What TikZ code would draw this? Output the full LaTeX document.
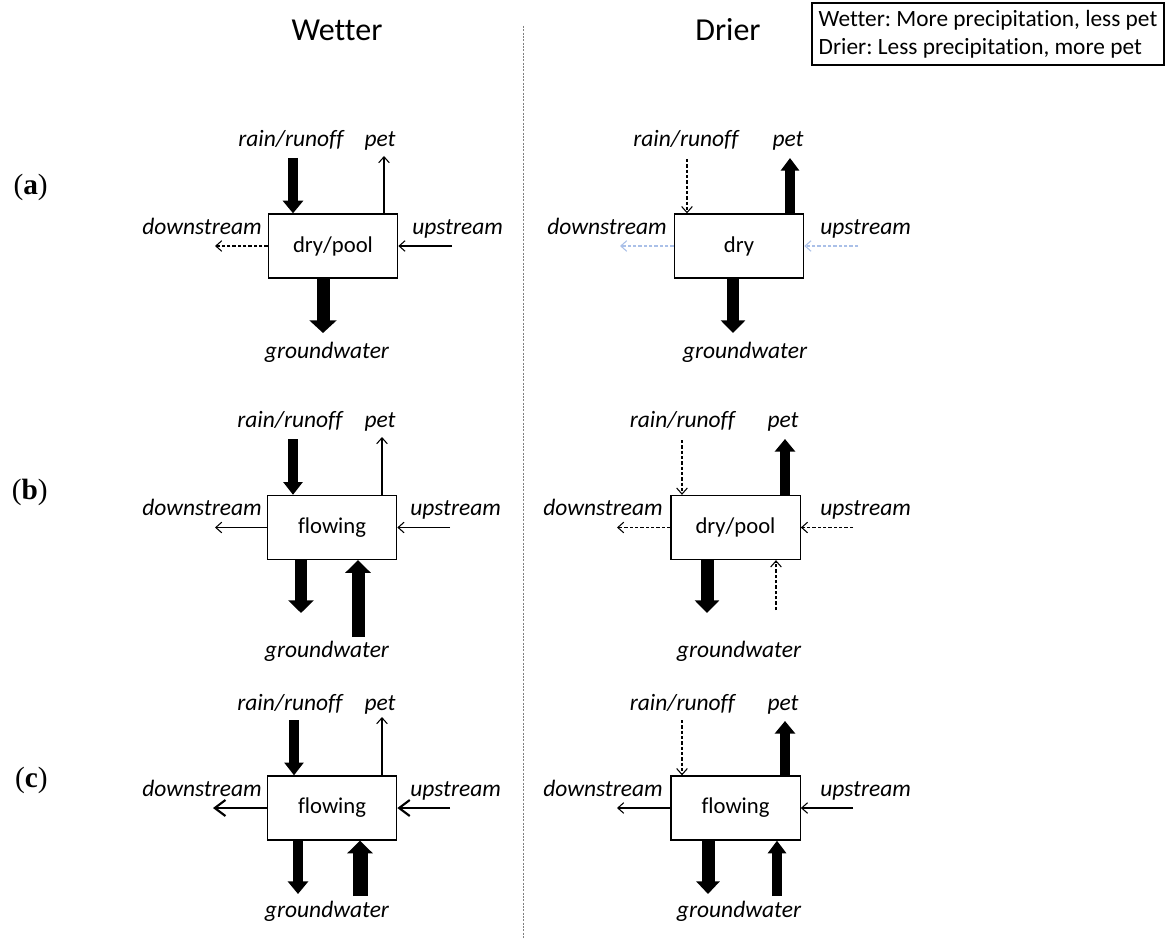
\documentclass[tikz,border=0pt]{standalone}
\usepackage{fontspec}
\setmainfont{Carlito}[Ligatures=NoCommon]
\newfontfamily\tagfont{Liberation Serif}
\usetikzlibrary{arrows.meta}
\definecolor{paleblue}{RGB}{170,192,232}
\frenchspacing

\begin{document}
\begin{tikzpicture}[x=0.75pt,y=-0.75pt,
		cell/.style={draw,line width=1pt,minimum width=97pt,minimum height=48pt,inner sep=0pt,font=\fontsize{17}{20}\selectfont},
		lab/.style={inner sep=0pt,font=\fontsize{17.6}{20}\selectfont\itshape},
		head/.style={anchor=base,font=\fontsize{24}{28}\selectfont},
		tag/.style={anchor=base east,inner sep=0pt,font=\fontsize{22}{26}\tagfont},
		flow/.style={line width=0.8pt,-{Straight Barb[length=4.5pt,width=8pt]}},
		strong/.style={line width=1.6pt,-{Straight Barb[length=8pt,width=12pt]}},
		weak/.style={flow,dash pattern=on 2.5pt off 1.5pt},
		fat/.style 2 args={line width=#1,-{Triangle[length=9.5pt,width=#2]}}]
		\useasboundingbox (0,0) rectangle (1168,938);

		% column titles, key and divider
		\node[head] (wet) at (337,41) {Wetter};
		\node[head] (dry) at (728,41) {Drier};
		\node[draw,line width=0.8pt,minimum width=264pt,minimum height=46.5pt,align=left,inner xsep=4pt,inner ysep=0pt,font=\fontsize{17.5}{21}\selectfont] (key) at (988,34) {Wetter: More precipitation, less pet\\Drier: Less precipitation, more pet};
		\coordinate (divtop) at (523,26);
		\coordinate (divbot) at (523,938);
		\draw[gray,line width=0.6pt,dash pattern=on 1.5pt off 1pt] (divtop) -- (divbot);

		\node[tag] (tagA) at (48,195) {(\textbf{a})};
		\node[tag] (tagB) at (48,499) {(\textbf{b})};
		\node[tag] (tagC) at (48,787) {(\textbf{c})};

		% (a) wetter
		\node[cell] (wa) at (333,246) {dry/pool};
		\coordinate (wa-rain) at (293,158);
		\coordinate (wa-pet) at (384,156);
		\coordinate (wa-down) at (215,246);
		\coordinate (wa-up) at (452,246);
		\coordinate (wa-gw) at (323,333);
		\draw[fat={7.5pt}{15pt}] (wa-rain) -- (wa-rain |- wa.north);
		\draw[flow] (wa-pet |- wa.north) -- (wa-pet);
		\draw[weak] (wa.west) -- (wa-down);
		\draw[flow] (wa-up) -- (wa.east);
		\draw[fat={9.75pt}{20pt}] (wa-gw |- wa.south) -- (wa-gw);
		\node[lab,anchor=base] (wa-l1) at (291,147) {rain/runoff};
		\node[lab,anchor=base] (wa-l2) at (380,147) {pet};
		\node[lab,anchor=base east] (wa-l3) at (262,234) {downstream};
		\node[lab,anchor=base west] (wa-l4) at (412,234) {upstream};
		\node[lab,anchor=base] (wa-l5) at (327,358) {groundwater};

		% (a) drier
		\node[cell] (da) at (739,246) {dry};
		\coordinate (da-rain) at (687,159);
		\coordinate (da-pet) at (790,158);
		\coordinate (da-down) at (620,246);
		\coordinate (da-up) at (858,246);
		\coordinate (da-gw) at (733,333);
		\draw[weak] (da-rain) -- (da-rain |- da.north);
		\draw[fat={7.5pt}{13.5pt}] (da-pet |- da.north) -- (da-pet);
		\draw[weak,paleblue] (da.west) -- (da-down);
		\draw[weak,paleblue] (da-up) -- (da.east);
		\draw[fat={9pt}{18pt}] (da-gw |- da.south) -- (da-gw);
		\node[lab,anchor=base] (da-l1) at (686,147) {rain/runoff};
		\node[lab,anchor=base] (da-l2) at (788,147) {pet};
		\node[lab,anchor=base east] (da-l3) at (667,234) {downstream};
		\node[lab,anchor=base west] (da-l4) at (820,234) {upstream};
		\node[lab,anchor=base] (da-l5) at (745,358) {groundwater};

		% (b) wetter
		\node[cell] (wb) at (332,527.5) {flowing};
		\coordinate (wb-rain) at (293,439);
		\coordinate (wb-pet) at (382,437);
		\coordinate (wb-down) at (215,527.5);
		\coordinate (wb-up) at (450,527.5);
		\coordinate (wb-gw1) at (301,613);
		\coordinate (wb-gw2) at (358,637);
		\draw[fat={7.5pt}{14pt}] (wb-rain) -- (wb-rain |- wb.north);
		\draw[flow] (wb-pet |- wb.north) -- (wb-pet);
		\draw[flow] (wb.west) -- (wb-down);
		\draw[flow] (wb-up) -- (wb.east);
		\draw[fat={9pt}{18.75pt}] (wb-gw1 |- wb.south) -- (wb-gw1);
		\draw[fat={9.75pt}{18.75pt}] (wb-gw2) -- (wb-gw2 |- wb.south);
		\node[lab,anchor=base] (wb-l1) at (290,427) {rain/runoff};
		\node[lab,anchor=base] (wb-l2) at (380,427) {pet};
		\node[lab,anchor=base east] (wb-l3) at (262,515) {downstream};
		\node[lab,anchor=base west] (wb-l4) at (410,515) {upstream};
		\node[lab,anchor=base] (wb-l5) at (327,657) {groundwater};

		% (b) drier
		\node[cell] (db) at (735.5,527.5) {dry/pool};
		\coordinate (db-rain) at (682,440);
		\coordinate (db-pet) at (785,439);
		\coordinate (db-down) at (617,527.5);
		\coordinate (db-up) at (853,527.5);
		\coordinate (db-gw1) at (707,613);
		\coordinate (db-gw2) at (776,610);
		\draw[weak] (db-rain) -- (db-rain |- db.north);
		\draw[fat={7.5pt}{15pt}] (db-pet |- db.north) -- (db-pet);
		\draw[weak] (db.west) -- (db-down);
		\draw[weak] (db-up) -- (db.east);
		\draw[fat={9.75pt}{18pt}] (db-gw1 |- db.south) -- (db-gw1);
		\draw[weak] (db-gw2) -- (db-gw2 |- db.south);
		\node[lab,anchor=base] (db-l1) at (682.5,427) {rain/runoff};
		\node[lab,anchor=base] (db-l2) at (783,427) {pet};
		\node[lab,anchor=base east] (db-l3) at (663,515) {downstream};
		\node[lab,anchor=base west] (db-l4) at (820,515) {upstream};
		\node[lab,anchor=base] (db-l5) at (739,657) {groundwater};

		% (c) wetter
		\node[cell] (wc) at (332,808) {flowing};
		\coordinate (wc-rain) at (294,720);
		\coordinate (wc-pet) at (382,717);
		\coordinate (wc-down) at (213,808);
		\coordinate (wc-up) at (450,808);
		\coordinate (wc-gw1) at (298,894);
		\coordinate (wc-gw2) at (360,896);
		\draw[fat={7.5pt}{14pt}] (wc-rain) -- (wc-rain |- wc.north);
		\draw[flow] (wc-pet |- wc.north) -- (wc-pet);
		\draw[strong] (wc.west) -- (wc-down);
		\draw[strong] (wc-up) -- (wc.east);
		\draw[fat={7.5pt}{15pt}] (wc-gw1 |- wc.south) -- (wc-gw1);
		\draw[fat={11.25pt}{18.75pt}] (wc-gw2) -- (wc-gw2 |- wc.south);
		\node[lab,anchor=base] (wc-l1) at (290,710) {rain/runoff};
		\node[lab,anchor=base] (wc-l2) at (380,710) {pet};
		\node[lab,anchor=base east] (wc-l3) at (262,796) {downstream};
		\node[lab,anchor=base west] (wc-l4) at (410,796) {upstream};
		\node[lab,anchor=base] (wc-l5) at (327,917) {groundwater};

		% (c) drier
		\node[cell] (dc) at (735.5,808) {flowing};
		\coordinate (dc-rain) at (682,720);
		\coordinate (dc-pet) at (785,721);
		\coordinate (dc-down) at (617,808);
		\coordinate (dc-up) at (853,808);
		\coordinate (dc-gw1) at (708,894);
		\coordinate (dc-gw2) at (777,896);
		\draw[weak] (dc-rain) -- (dc-rain |- dc.north);
		\draw[fat={7.5pt}{15pt}] (dc-pet |- dc.north) -- (dc-pet);
		\draw[flow] (dc.west) -- (dc-down);
		\draw[flow] (dc-up) -- (dc.east);
		\draw[fat={9.75pt}{17.25pt}] (dc-gw1 |- dc.south) -- (dc-gw1);
		\draw[fat={7.5pt}{13.5pt}] (dc-gw2) -- (dc-gw2 |- dc.south);
		\node[lab,anchor=base] (dc-l1) at (682.5,710) {rain/runoff};
		\node[lab,anchor=base] (dc-l2) at (783,710) {pet};
		\node[lab,anchor=base east] (dc-l3) at (663,796) {downstream};
		\node[lab,anchor=base west] (dc-l4) at (820,796) {upstream};
		\node[lab,anchor=base] (dc-l5) at (739,917) {groundwater};
	\end{tikzpicture}
\end{document}
